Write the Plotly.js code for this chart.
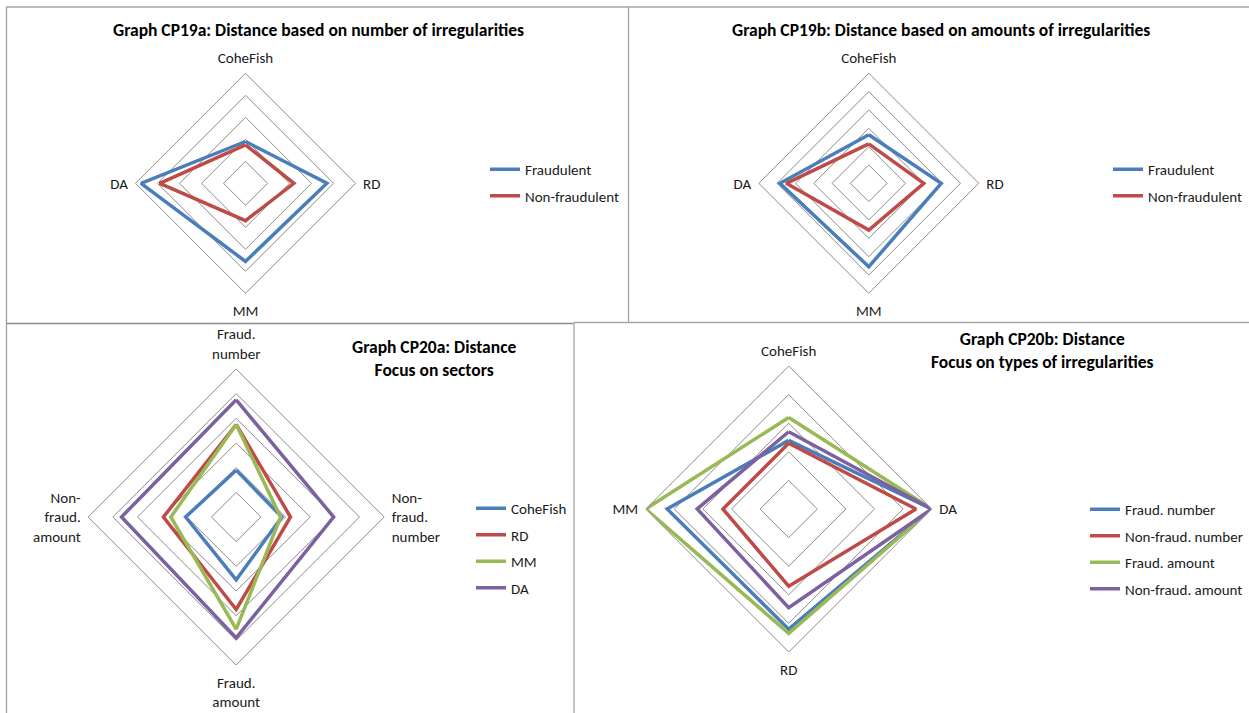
<!DOCTYPE html>
<html><head><meta charset="utf-8">
<script src="https://cdn.plot.ly/plotly-3.0.1.min.js"></script>
<style>html,body{margin:0;padding:0;background:#fff}#chart{width:1249px;height:713px}</style>
</head><body><div id="chart"></div>
<script>
// ---- Data ----
const cats19 = ["CoheFish", "RD", "MM", "DA"];
const fraud19a = [1.9, 3.7, 3.55, 4.75];
const nonFraud19a = [1.75, 2.2, 1.7, 3.9];
const fraud19b = [2.65, 3.95, 4.55, 4.85];
const nonFraud19b = [2.15, 3.0, 2.55, 4.5];

const cats20a = ["Fraud.<br>number", "Non-<br>fraud.<br>number", "Fraud.<br>amount", "Non-<br>fraud.<br>amount"];
const coheFish20a = [1.9, 1.85, 2.55, 2.05];
const rd20a = [3.75, 2.2, 3.75, 2.95];
const mm20a = [3.75, 1.8, 4.55, 2.65];
const da20a = [4.75, 3.95, 4.9, 4.65];

const cats20b = ["CoheFish", "DA", "RD", "MM"];
const fraudNum20b = [2.4, 5.0, 4.2, 4.25];
const nonFraudNum20b = [2.3, 4.45, 2.7, 2.3];
const fraudAmt20b = [3.2, 5.0, 4.35, 5.0];
const nonFraudAmt20b = [2.7, 5.0, 3.45, 3.2];

// ---- Styling ----
const BLUE = "#4A7EBB", RED = "#BE4B48", GREEN = "#98B954", PURPLE = "#7D60A0";
const FONT = "Carlito, Lato, 'Open Sans', sans-serif";
const W = 1249, H = 713;

function closed(a) { return a.concat([a[0]]); }
function trace(r, theta, name, color, sub, leg, grp) {
  return {
    type: "scatterpolar", mode: "lines", r: closed(r), theta: closed(theta),
    name: name, subplot: sub, legend: leg, legendgroup: grp,
    line: { color: color, width: 3.5 }, hoverinfo: "skip"
  };
}
function dom(cx, cy, R) {
  return { x: [(cx - R) / W, (cx + R) / W], y: [1 - (cy + R) / H, 1 - (cy - R) / H] };
}
function polar(cx, cy, R, max) {
  return {
    domain: dom(cx, cy, R), gridshape: "linear", bgcolor: "rgba(0,0,0,0)",
    radialaxis: { range: [0, max], dtick: 1, showline: false, showticklabels: false, ticks: "",
      gridcolor: "#8c8c8c", gridwidth: 1 },
    angularaxis: { rotation: 90, direction: "clockwise", showgrid: false,
      ticks: "outside", ticklen: 4, tickcolor: "rgba(0,0,0,0)",
      showline: true, linecolor: "#8c8c8c", linewidth: 1,
      tickfont: { family: FONT, size: 15, color: "#1a1a1a" } }
  };
}

const data = [
  trace(fraud19a, cats19, "Fraudulent", BLUE, "polar", "legend", "a1"),
  trace(nonFraud19a, cats19, "Non-fraudulent", RED, "polar", "legend", "a2"),
  trace(fraud19b, cats19, "Fraudulent", BLUE, "polar2", "legend2", "b1"),
  trace(nonFraud19b, cats19, "Non-fraudulent", RED, "polar2", "legend2", "b2"),
  trace(coheFish20a, cats20a, "CoheFish", BLUE, "polar3", "legend3", "c1"),
  trace(rd20a, cats20a, "RD", RED, "polar3", "legend3", "c2"),
  trace(mm20a, cats20a, "MM", GREEN, "polar3", "legend3", "c3"),
  trace(da20a, cats20a, "DA", PURPLE, "polar3", "legend3", "c4"),
  trace(fraudNum20b, cats20b, "Fraud. number", BLUE, "polar4", "legend4", "d1"),
  trace(nonFraudNum20b, cats20b, "Non-fraud. number", RED, "polar4", "legend4", "d2"),
  trace(fraudAmt20b, cats20b, "Fraud. amount", GREEN, "polar4", "legend4", "d3"),
  trace(nonFraudAmt20b, cats20b, "Non-fraud. amount", PURPLE, "polar4", "legend4", "d4")
];

function legend(px, py) {
  return { x: px / W, y: 1 - py / H, xanchor: "left", yanchor: "top", bgcolor: "rgba(0,0,0,0)",
    font: { family: FONT, size: 15, color: "#1a1a1a" }, traceorder: "grouped", tracegroupgap: 4,
    itemwidth: 30 };
}
function ann(text, px, py) {
  return { text: text, x: px / W, y: 1 - py / H, xref: "paper", yref: "paper", showarrow: false,
    xanchor: "center", yanchor: "middle", font: { family: FONT, size: 17.5, color: "#000" } };
}
function ln(x0, y0, x1, y1, c) {
  return { type: "line", xref: "paper", yref: "paper", x0: x0 / W, y0: 1 - y0 / H, x1: x1 / W, y1: 1 - y1 / H,
    line: { color: c || "#a6a6a6", width: 1.3 } };
}

const layout = {
  width: W, height: H, margin: { l: 0, r: 0, t: 0, b: 0 }, paper_bgcolor: "#fff",
  showlegend: true,
  polar: polar(245.5, 183.3, 110, 5),
  polar2: polar(868.8, 183.3, 110, 6),
  polar3: polar(236.2, 517, 148, 6),
  polar4: polar(788.7, 509, 143, 5),
  legend: legend(485, 153),
  legend2: legend(1108, 153),
  legend3: legend(471, 492),
  legend4: legend(1085, 493),
  annotations: [
    ann("<b>Graph CP19a: Distance based on number of irregularities</b>", 318, 30),
    ann("<b>Graph CP19b: Distance based on amounts of irregularities</b>", 941, 30),
    ann("<b>Graph CP20a: Distance<br>Focus on sectors</b>", 434, 358),
    ann("<b>Graph CP20b: Distance<br>Focus on types of irregularities</b>", 1042, 351)
  ],
  shapes: [
    ln(6, 7, 1249, 7), ln(6.5, 7, 6.5, 713, "#a0a0a0"), ln(628.5, 7, 628.5, 322.5),
    ln(6, 323.5, 574, 323.5, "#8a8a8a"), ln(574, 322.5, 1249, 322.5), ln(574, 323, 574, 713)
  ]
};

Plotly.newPlot("chart", data, layout, { displayModeBar: false, staticPlot: true });
</script></body></html>
